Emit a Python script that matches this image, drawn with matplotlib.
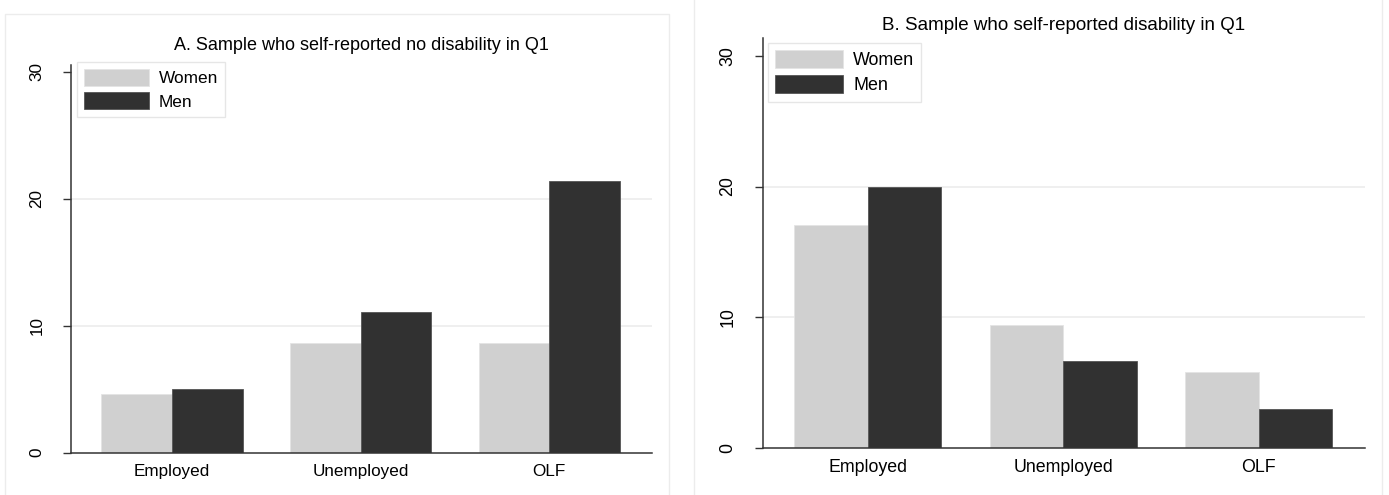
import numpy as np
import matplotlib
matplotlib.use("Agg")
import matplotlib.pyplot as plt
from matplotlib.patches import Rectangle

plt.rcParams["font.family"] = ["Liberation Sans", "DejaVu Sans"]

categories = ["Employed", "Unemployed", "OLF"]
series = ["Women", "Men"]
women_a = [4.65, 8.65, 8.65]
men_a = [5.0, 11.1, 21.4]
women_b = [17.1, 9.4, 5.8]
men_b = [20.0, 6.7, 3.0]
yticks = [0, 10, 20, 30]
title_a = "A. Sample who self-reported no disability in Q1"
title_b = "B. Sample who self-reported disability in Q1"

W, H = 1389, 495
fig = plt.figure(figsize=(W / 100, H / 100), dpi=100)
fig.patch.set_facecolor("white")

# faint outer frames of the two panels
for x0, y0, x1 in [(5, 14, 669), (694, -2, 1382)]:
    fig.patches.append(Rectangle((x0 / W, -0.01), (x1 - x0) / W, 1 - y0 / H + 0.01,
                                 transform=fig.transFigure, fill=False,
                                 edgecolor="#ececec", lw=1, zorder=0))

women_c = "#d0d0d0"
men_c = "#313131"


def panel(rect, women, men, title, ytop, k, leg_anchor, title_y):
    l, t, r, b = rect
    fs = 12.3 * k
    ax = fig.add_axes([l / W, 1 - b / H, (r - l) / W, (b - t) / H])
    x = np.arange(len(categories))
    w = 0.375
    ax.bar(x - w / 2, women, w, color=women_c, edgecolor="#e4e4e4", lw=0.6, label=series[0], zorder=2)
    ax.bar(x + w / 2, men, w, color=men_c, edgecolor="#555555", lw=0.6, label=series[1], zorder=2)
    ax.set_xlim(-0.535, 2.543)
    ax.set_ylim(0, ytop)
    ax.set_yticks(yticks)
    ax.set_yticklabels([str(v) for v in yticks], rotation=90, va="center", fontsize=fs)
    ax.set_xticks(x)
    ax.set_xticklabels(categories, fontsize=fs)
    ax.tick_params(axis="y", length=6, width=1, pad=13, color="#333333")
    ax.tick_params(axis="x", length=0, pad=8)
    for v in [10, 20]:
        ax.axhline(v, color="#ececec", lw=1.2, zorder=1)
    for s in ["top", "right"]:
        ax.spines[s].set_visible(False)
    for s in ["left", "bottom"]:
        ax.spines[s].set_color("#333333")
        ax.spines[s].set_linewidth(1.1)
    fig.text(((l + r) / 2) / W, 1 - title_y / H, title, ha="center", va="center", fontsize=13 * k)
    leg = ax.legend(loc="upper left", bbox_to_anchor=leg_anchor, borderaxespad=0,
                    fontsize=12.4 * k, handlelength=3.8, handleheight=1.15,
                    labelspacing=0.35, handletextpad=0.55, borderpad=0.4,
                    fancybox=False, framealpha=1, edgecolor="#e6e6e6")
    leg.get_frame().set_linewidth(1)
    return ax


panel((71, 65, 651.7, 452.7), women_a, men_a, title_a, 30.55, 1.0,
      (6 / 580.7, 1 + 3 / 387.7), 46)
panel((763, 38, 1365, 448.3), women_b, men_b, title_b, 31.35, 1.04,
      (5 / 602, 1 - 5 / 410.3), 25)

fig.savefig("out.png", dpi=100)
